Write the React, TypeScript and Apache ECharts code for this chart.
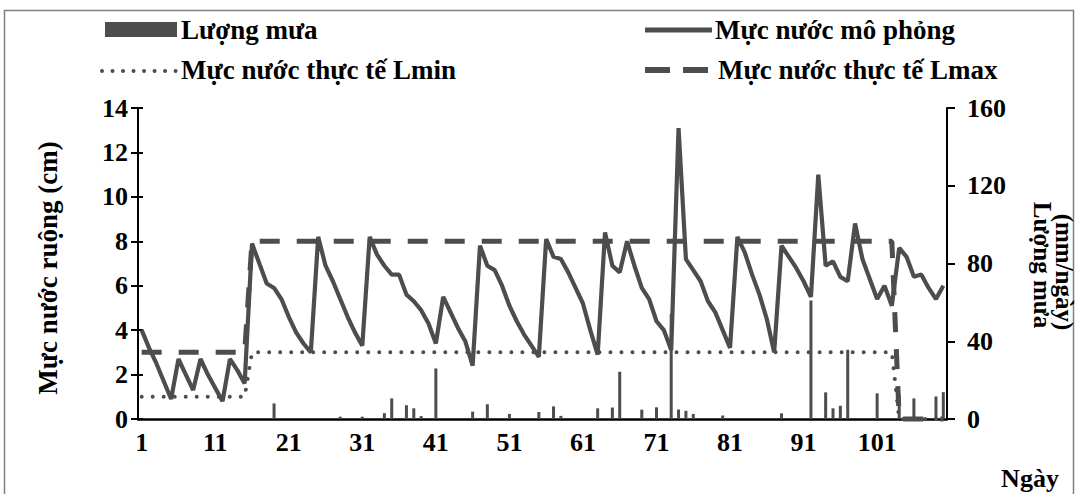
import React, { useEffect, useRef } from "react";
import * as echarts from "echarts";

// Day categories 1..110
const days: string[] = Array.from({ length: 110 }, (_, i) => String(i + 1));

// Simulated water level (cm)
const waterSim: number[] = [
  4.0, 3.2, 2.5, 1.7, 0.9, 2.7, 2.0, 1.3, 2.7, 2.0,
  1.4, 0.8, 2.7, 2.2, 1.6, 7.9, 7.0, 6.1, 5.9, 5.4,
  4.6, 3.9, 3.4, 3.0, 8.2, 6.9, 6.2, 5.4, 4.6, 3.9,
  3.3, 8.2, 7.4, 6.9, 6.5, 6.5, 5.6, 5.3, 4.9, 4.3,
  3.4, 5.5, 4.8, 4.1, 3.5, 2.4, 7.8, 6.9, 6.7, 6.0,
  5.1, 4.4, 3.8, 3.3, 2.8, 8.1, 7.3, 7.2, 6.6, 5.9,
  5.2, 4.0, 2.9, 8.4, 6.9, 6.6, 8.0, 6.9, 5.9, 5.4,
  4.4, 4.0, 3.1, 13.1, 7.2, 6.7, 6.2, 5.3, 4.8, 4.0,
  3.2, 8.2, 7.5, 6.5, 5.6, 4.5, 3.0, 7.8, 7.3, 6.8,
  6.2, 5.5, 11.0, 6.9, 7.1, 6.4, 6.2, 8.8, 7.2, 6.3,
  5.4, 6.0, 5.1, 7.7, 7.3, 6.4, 6.5, 5.9, 5.4, 6.0,
];

// Observed minimum level (cm)
const lMin: number[] = [
  1, 1, 1, 1, 1, 1, 1, 1, 1, 1,
  1, 1, 1, 1, 1, 3, 3, 3, 3, 3,
  3, 3, 3, 3, 3, 3, 3, 3, 3, 3,
  3, 3, 3, 3, 3, 3, 3, 3, 3, 3,
  3, 3, 3, 3, 3, 3, 3, 3, 3, 3,
  3, 3, 3, 3, 3, 3, 3, 3, 3, 3,
  3, 3, 3, 3, 3, 3, 3, 3, 3, 3,
  3, 3, 3, 3, 3, 3, 3, 3, 3, 3,
  3, 3, 3, 3, 3, 3, 3, 3, 3, 3,
  3, 3, 3, 3, 3, 3, 3, 3, 3, 3,
  3, 3, 3, 0, 0, 0, 0, 0, 0, 0,
];

// Observed maximum level (cm)
const lMax: number[] = [
  3, 3, 3, 3, 3, 3, 3, 3, 3, 3,
  3, 3, 3, 3, 3, 8, 8, 8, 8, 8,
  8, 8, 8, 8, 8, 8, 8, 8, 8, 8,
  8, 8, 8, 8, 8, 8, 8, 8, 8, 8,
  8, 8, 8, 8, 8, 8, 8, 8, 8, 8,
  8, 8, 8, 8, 8, 8, 8, 8, 8, 8,
  8, 8, 8, 8, 8, 8, 8, 8, 8, 8,
  8, 8, 8, 8, 8, 8, 8, 8, 8, 8,
  8, 8, 8, 8, 8, 8, 8, 8, 8, 8,
  8, 8, 8, 8, 8, 8, 8, 8, 8, 8,
  8, 8, 8, 0, 0, 0, 0, 0, 0, 0,
];

// Rainfall (mm/day)
const rain: number[] = [
  0, 0, 0, 0, 0, 0, 0, 0, 0, 0,
  0, 0, 0, 0, 0, 0, 0, 0, 8, 0,
  0, 0, 0, 0, 0, 0, 0, 1.2, 0, 0,
  1.2, 0, 0, 3, 10.6, 0, 7.1, 5.5, 1.5, 0,
  26, 0, 0, 0, 0, 3.8, 0, 7.6, 0, 0,
  2.6, 0, 0, 0, 3.6, 0, 6.5, 1.6, 0, 0,
  0, 0, 5.5, 0, 5.9, 24.3, 0, 0, 4.8, 0,
  6, 0, 54, 4.9, 4.2, 2.6, 0, 0, 0, 1.8,
  0, 0, 0, 0, 0, 0, 0, 2.9, 0, 0,
  0, 61, 0, 13.7, 5.5, 6.8, 35.6, 0, 0, 0,
  13.2, 0, 0, 12.3, 0, 10.6, 0, 0, 11.6, 13.8,
];

const leftAxisRange = [0, 14, 2];
const rightAxisRange = [0, 160, 40];

const legendNames = [
  "Lượng mưa",
  "Mực nước mô phỏng",
  "Mực nước thực tế Lmin",
  "Mực nước thực tế Lmax",
];

const FONT = "Liberation Serif";
const GRAY = "#4d4d4d";

const textBase = {
  fontFamily: FONT,
  fontWeight: "bold" as const,
  fontSize: 26,
  color: "#000",
};

const gText = (text: string, x: number, y: number, size: number, align: string, rotation = 0) => ({
  type: "text",
  x,
  y,
  rotation,
  silent: true,
  style: {
    text,
    font: `bold ${size}px "${FONT}"`,
    fill: "#000",
    align,
    verticalAlign: "middle",
  },
});

export default function App() {
  const ref = useRef<HTMLDivElement>(null);
  useEffect(() => {
    if (!ref.current) return;
    const chart = echarts.init(ref.current, undefined, { renderer: "svg" });
    chart.setOption({
      animation: false,
      backgroundColor: "#fff",
      grid: { left: 138, right: 132, top: 108, bottom: 75, containLabel: false },
      xAxis: {
        type: "category",
        data: days,
        boundaryGap: true,
        axisLine: { lineStyle: { color: "#000", width: 2.5 } },
        axisTick: { show: false },
        axisLabel: { ...textBase, interval: 9, margin: 10 },
        splitLine: { show: false },
      },
      yAxis: [
        {
          type: "value",
          position: "left",
          min: leftAxisRange[0],
          max: leftAxisRange[1],
          interval: leftAxisRange[2],
          axisLine: { show: true, lineStyle: { color: "#000", width: 2 } },
          axisTick: { show: true, length: 7, lineStyle: { color: "#000", width: 2 } },
          axisLabel: { ...textBase, margin: 10 },
          splitLine: { show: false },
        },
        {
          type: "value",
          position: "right",
          min: rightAxisRange[0],
          max: rightAxisRange[1],
          interval: rightAxisRange[2],
          axisLine: { show: true, lineStyle: { color: "#000", width: 2 } },
          axisTick: { show: true, length: 8, lineStyle: { color: "#000", width: 2 } },
          axisLabel: { ...textBase, margin: 20 },
          splitLine: { show: false },
        },
        {
          type: "value",
          position: "left",
          min: leftAxisRange[0],
          max: leftAxisRange[1],
          interval: leftAxisRange[2],
          axisLine: { show: false },
          axisTick: { show: true, inside: true, length: 5, lineStyle: { color: "#000", width: 2 } },
          axisLabel: { show: false },
          splitLine: { show: false },
        },
      ],
      series: [
        {
          name: legendNames[0],
          type: "bar",
          yAxisIndex: 1,
          data: rain,
          barWidth: 3,
          itemStyle: { color: GRAY },
        },
        {
          name: legendNames[2],
          type: "line",
          data: lMin,
          symbol: "none",
          clip: false,
          lineStyle: { color: GRAY, width: 4, type: [0.01, 11], cap: "round" },
        },
        {
          name: legendNames[3],
          type: "line",
          data: lMax,
          symbol: "none",
          clip: false,
          lineStyle: { color: GRAY, width: 5, type: [20, 17] },
        },
        {
          name: legendNames[1],
          type: "line",
          data: waterSim,
          symbol: "none",
          clip: false,
          lineStyle: { color: GRAY, width: 4.2 },
        },
      ],
      graphic: [
        {
          type: "rect",
          silent: true,
          shape: { x: 4.5, y: 10.5, width: 1069, height: 520 },
          style: { fill: "none", stroke: "#808080", lineWidth: 1.5 },
        },
        // legend
        {
          type: "rect",
          silent: true,
          shape: { x: 105, y: 22, width: 72, height: 15 },
          style: { fill: GRAY },
        },
        gText(legendNames[0], 181, 30, 27, "left"),
        {
          type: "line",
          silent: true,
          shape: { x1: 645, y1: 30, x2: 712, y2: 30 },
          style: { stroke: GRAY, lineWidth: 5 },
        },
        gText(legendNames[1], 715, 30, 27, "left"),
        {
          type: "line",
          silent: true,
          shape: { x1: 102, y1: 71, x2: 176, y2: 71 },
          style: { stroke: GRAY, lineWidth: 4, lineDash: [0.01, 10.5], lineCap: "round" },
        },
        gText(legendNames[2], 181, 70, 27, "left"),
        {
          type: "line",
          silent: true,
          shape: { x1: 645, y1: 70, x2: 710, y2: 70 },
          style: { stroke: GRAY, lineWidth: 6, lineDash: [25, 13] },
        },
        gText(legendNames[3], 718, 70, 27, "left"),
        // axis titles
        gText("Mực nước ruộng (cm)", 48, 268, 27, "center", Math.PI / 2),
        gText("Lượng mưa", 1042, 265, 25, "center", -Math.PI / 2),
        gText("(mm/ngày)", 1064, 272, 25, "center", -Math.PI / 2),
        gText("Ngày", 1030, 478, 26, "center"),
      ],
    });
    return () => chart.dispose();
  }, []);
  return (
    <div
      ref={ref}
      style={{ position: "absolute", left: 0, top: 0, width: 1079, height: 494 }}
    />
  );
}
